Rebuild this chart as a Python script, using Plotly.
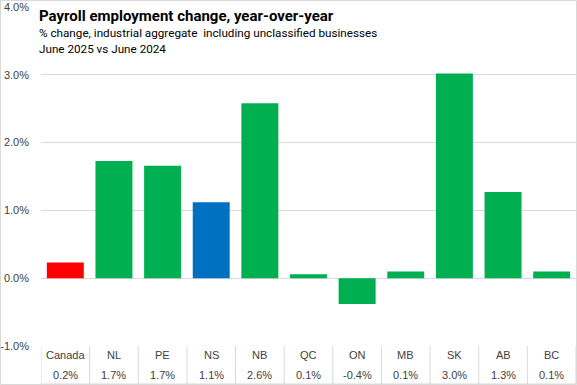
import plotly.graph_objects as go

categories = ["Canada", "NL", "PE", "NS", "NB", "QC", "ON", "MB", "SK", "AB", "BC"]
values = [0.23, 1.73, 1.66, 1.12, 2.58, 0.06, -0.38, 0.1, 3.02, 1.27, 0.1]
bar_colors = ["#FF0000", "#00B050", "#00B050", "#0070C0", "#00B050", "#00B050",
              "#00B050", "#00B050", "#00B050", "#00B050", "#00B050"]
tick_vals = [-1, 0, 1, 2, 3, 4]
tick_text = ["-1.0%", "0.0%", "1.0%", "2.0%", "3.0%", "4.0%"]

title = "Payroll employment change, year-over-year"
subtitle1 = "% change, industrial aggregate  including unclassified businesses"
subtitle2 = "June 2025 vs June 2024"

W, H = 577, 385
ml, mr, mt, mb = 41, 1, 7, 39
GRID = "#D9D9D9"
FONT = "Liberation Sans Narrow, Liberation Sans, Arial"

fig = go.Figure(go.Bar(
    x=categories, y=values, marker_color=bar_colors, marker_line_width=0,
    hoverinfo="skip",
))

plot_h = H - mt - mb
plot_w = W - ml - mr

def py(px_from_top):
    return 1 - (px_from_top - mt) / plot_h

annotations = []
shapes = []
n = len(categories)
for i, (c, v) in enumerate(zip(categories, values)):
    annotations.append(dict(x=c, y=py(355), xref="x", yref="paper", text=c,
                            showarrow=False, font=dict(size=11, color="#404040", family=FONT),
                            yanchor="middle"))
    annotations.append(dict(x=c, y=py(375), xref="x", yref="paper", text=f"{v:.1f}%",
                            showarrow=False, font=dict(size=11, color="#404040", family=FONT),
                            yanchor="middle"))
for i in range(n + 1):
    shapes.append(dict(type="line", xref="x", yref="paper", x0=i - 0.5, x1=i - 0.5,
                       y0=0, y1=py(384), line=dict(color=GRID, width=1)))
shapes.append(dict(type="line", xref="x", yref="paper", x0=-0.5, x1=n - 0.5,
                   y0=py(384), y1=py(384), line=dict(color=GRID, width=1)))
shapes.append(dict(type="rect", xref="paper", yref="paper",
                   x0=(0.5 - ml) / plot_w, x1=1 + (mr - 0.5) / plot_w,
                   y0=py(384.5), y1=py(0.5), line=dict(color=GRID, width=1)))

annotations += [
    dict(x=37, y=16, text=f"<b>{title}</b>"),
    dict(x=37, y=33, text=subtitle1),
    dict(x=37, y=49, text=subtitle2),
]
for a in annotations[-3:]:
    px_x, px_y = a["x"], a["y"]
    a.update(xref="paper", yref="paper", x=(px_x - ml) / plot_w, y=py(px_y),
             xanchor="left", yanchor="middle", showarrow=False,
             font=dict(size=15 if "<b>" in a["text"] else 11.7, color="#000000",
                       family="Roboto, Noto Sans, Arial"))

fig.update_layout(
    width=W, height=H,
    margin=dict(l=ml, r=mr, t=mt, b=mb, pad=0),
    paper_bgcolor="white", plot_bgcolor="white",
    showlegend=False, bargap=0.24,
    xaxis=dict(showticklabels=False, showgrid=False, showline=False, zeroline=False,
               range=[-0.5, n - 0.5]),
    yaxis=dict(range=[-1, 4], tickvals=tick_vals, ticktext=tick_text,
               showgrid=True, gridcolor=GRID, gridwidth=1, zeroline=True,
               zerolinecolor=GRID, zerolinewidth=1, showline=False, ticks="",
               ticklabelstandoff=11,
               tickfont=dict(size=11, color="#404040", family=FONT)),
    annotations=annotations, shapes=shapes,
)

fig.write_html("out.html", config={"displayModeBar": False},
               post_script="document.body.style.margin='0';document.body.style.overflow='hidden';")
